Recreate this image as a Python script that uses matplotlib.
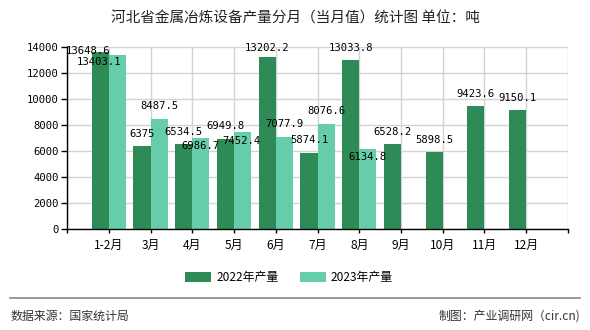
import numpy as np
import matplotlib
matplotlib.use("Agg")
import matplotlib.pyplot as plt
from matplotlib.patches import Patch

CJK = ["Noto Sans CJK SC", "DejaVu Sans"]
MONO = ["DejaVu Sans Mono", "Noto Sans CJK SC"]
plt.rcParams["font.family"] = CJK

MONTHS = ["1-2月", "3月", "4月", "5月", "6月", "7月", "8月", "9月", "10月", "11月", "12月"]
PROD_2022 = [13648.6, 6375, 6534.5, 6949.8, 13202.2, 5874.1, 13033.8, 6528.2, 5898.5, 9423.6, 9150.1]
PROD_2023 = [13403.1, 8487.5, 6986.7, 7452.4, 7077.9, 8076.6, 6134.8]
SERIES_NAMES = ["2022年产量", "2023年产量"]
Y_TICKS = list(range(0, 14001, 2000))

TITLE = "河北省金属冶炼设备产量分月（当月值）统计图 单位：吨"
SOURCE = "数据来源：国家统计局"
MAKER = "制图：产业调研网（cir.cn)"

C_2022 = "#2e8b57"
C_2023 = "#66cdaa"

# label offsets (pixels) where the original chart moved labels to avoid overlap
DEFAULT_DY = 12.5
SHIFT_2022 = {0: (-12.5, 0.6), 4: (0, 9.4), 6: (0, 11.7)}
SHIFT_2023 = {0: (-18, -7.2), 2: (-0.7, -8.3), 3: (-1, -9), 6: (0, -8)}

fig = plt.figure(figsize=(5.9, 3.3), dpi=100)
ax = fig.add_axes([0.1136, 0.3061, 0.9627 - 0.1136, 0.8576 - 0.3061])

w = 0.41
x22 = np.arange(len(PROD_2022))
x23 = np.arange(len(PROD_2023))
ax.bar(x22 - w / 2, PROD_2022, width=w, color=C_2022, zorder=2)
ax.bar(x23 + w / 2, PROD_2023, width=w, color=C_2023, zorder=2)

for vals, xs, shifts in [(PROD_2022, x22 - w / 2, SHIFT_2022), (PROD_2023, x23 + w / 2, SHIFT_2023)]:
    for i, (xv, v) in enumerate(zip(xs, vals)):
        dx, dy = shifts.get(i, (0, DEFAULT_DY))
        ax.annotate(f"{v:g}", xy=(xv, v), xytext=(dx, dy), textcoords="offset pixels",
                    ha="center", va="center", fontsize=7.6, family=MONO, color="#000000", zorder=3)

ax.set_xlim(-1, len(MONTHS))
ax.set_ylim(0, 14000)
ax.set_xticks(np.arange(-1, len(MONTHS) + 1))
ax.set_xticklabels([""] + MONTHS + [""], fontsize=8.6)
ax.set_yticks(Y_TICKS)
ax.set_yticklabels([str(t) for t in Y_TICKS], family=MONO, fontsize=7.6)
ax.tick_params(axis="x", length=3, width=1, color="#000000", pad=4)
ax.tick_params(axis="y", length=4, width=1, color="#000000", pad=2)
ax.grid(True, color="#d3d3d3", linewidth=1, zorder=0)
ax.set_axisbelow(True)
for s in ["top", "right"]:
    ax.spines[s].set_visible(False)
for s in ["left", "bottom"]:
    ax.spines[s].set_color("#000000")
    ax.spines[s].set_linewidth(1)

fig.text(0.5, 0.945, TITLE, ha="center", va="center", fontsize=10.5, color="#222222")

handles = [Patch(facecolor=C_2022), Patch(facecolor=C_2023)]
fig.legend(handles, SERIES_NAMES, loc="center", bbox_to_anchor=(0.49, 0.16), ncol=2,
           frameon=False, fontsize=8.6, handlelength=2.2, handleheight=0.9,
           handletextpad=0.4, columnspacing=1.8)

fig.add_artist(plt.Line2D([0.017, 0.983], [0.097, 0.097], color="#888888", linewidth=1.2))
fig.text(0.017, 0.042, SOURCE, ha="left", va="center", fontsize=8.6, color="#333333")
fig.text(0.983, 0.042, MAKER, ha="right", va="center", fontsize=8.6, color="#333333")

fig.savefig("out.png", dpi=100)
